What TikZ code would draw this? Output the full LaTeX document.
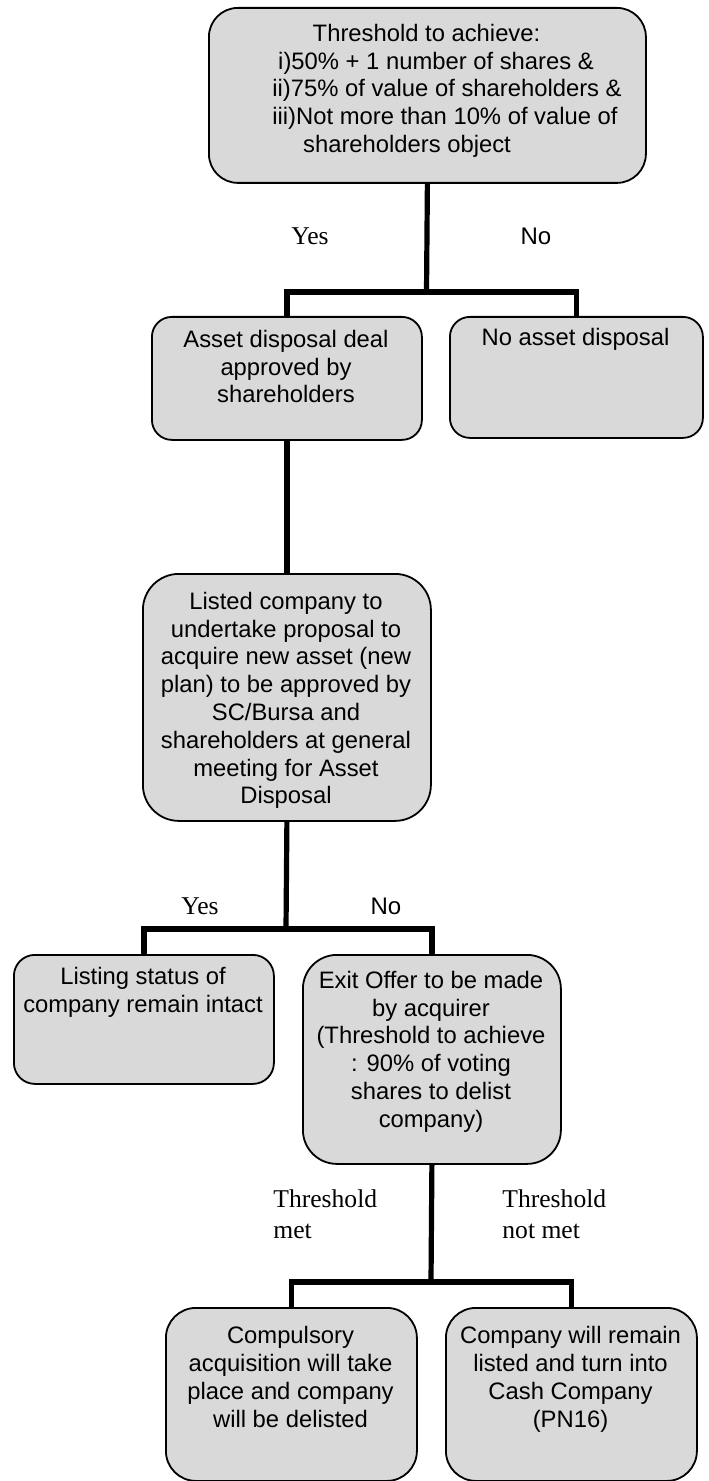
\documentclass[tikz,border=0pt]{standalone}
\usepackage{fontspec}
\setmainfont{Liberation Sans}
\newfontfamily\lblfont{Liberation Serif}
\definecolor{boxgray}{RGB}{217,217,217}
\tikzset{
  box/.style={draw=black, line width=0.9pt, fill=boxgray, rectangle, inner sep=0pt, anchor=north west},
  boxtext/.style={font=\fontsize{11.9}{13.9}\selectfont, align=center, inner sep=0pt, anchor=north},
  conn/.style={line width=2.6pt},
  lbl/.style={font=\lblfont\fontsize{12.8}{15.5}\selectfont, inner sep=0pt},
  lblsans/.style={font=\fontsize{12}{13.9}\selectfont, inner sep=0pt}
}
\begin{document}
\begin{tikzpicture}[x=0.5pt,y=-0.5pt]
\useasboundingbox (0,0) rectangle (708,1481);

% boxes
\node[box, minimum width=218.5pt, minimum height=87.5pt, rounded corners=14.5pt] (b1) at (208,7) {};
\node[box, minimum width=135pt, minimum height=61.5pt, rounded corners=10pt] (b2) at (151,316) {};
\node[box, minimum width=126.5pt, minimum height=60.5pt, rounded corners=10pt] (b2n) at (449,316) {};
\node[box, minimum width=144pt, minimum height=123.5pt, rounded corners=18pt] (b3) at (142,573) {};
\node[box, minimum width=130pt, minimum height=64.5pt, rounded corners=10.5pt] (b4) at (13,954) {};
\node[box, minimum width=129pt, minimum height=104.5pt, rounded corners=17pt] (b5) at (302,954) {};
\node[box, minimum width=125.5pt, minimum height=86.5pt, rounded corners=15pt] (b6) at (165,1307) {};
\node[box, minimum width=125.5pt, minimum height=86.5pt, rounded corners=15pt] (b7) at (445,1307) {};

% box texts
\node[boxtext] (t1) at (426.5,21.5) {\strut Threshold to achieve:\\
\hspace*{9.5pt}i)50\% + 1 number of shares \&\\
\hspace*{20.5pt}ii)75\% of value of shareholders \&\\
\hspace*{18.5pt}iii)Not more than 10\% of value of\\
shareholders object\hspace*{19.5pt}};
\node[boxtext] (t2) at (286,327.5) {\strut Asset disposal deal\\approved by\\shareholders};
\node[boxtext] (t2n) at (575.5,325.5) {\strut No asset disposal};
\node[boxtext] (t3) at (286,589.5) {\strut Listed company to\\undertake proposal to\\acquire new asset (new\\plan) to be approved by\\SC/Bursa and\\shareholders at general\\meeting for Asset\\Disposal};
\node[boxtext] (t4) at (143,964.5) {\strut Listing status of\\company remain intact};
\node[boxtext] (t5) at (431,968.5) {\strut Exit Offer to be made\\by acquirer\\(Threshold to achieve\\: 90\% of voting\\shares to delist\\company)};
\node[boxtext] (t6) at (290.5,1324) {\strut Compulsory\\acquisition will take\\place and company\\will be delisted};
\node[boxtext] (t7) at (570.5,1324) {\strut Company will remain\\listed and turn into\\Cash Company\\(PN16)};

% labels
\node[lbl, anchor=base] (yes1) at (310,245) {Yes};
\node[lblsans, anchor=base] (no1) at (536,245) {No};
\node[lbl, anchor=base] (yes2) at (200,914) {Yes};
\node[lblsans, anchor=base] (no2) at (386,914) {No};
\node[lbl, anchor=north west, align=left] (tm) at (273,1185) {\strut Threshold\\met};
\node[lbl, anchor=north west, align=left] (tnm) at (502,1185) {\strut Threshold\\not met};

% connectors
\coordinate (j1) at (426.5,292);
\coordinate (j2) at (286,929);
\coordinate (j3) at (431,1282);
\draw[conn] (b1.south) -- (j1);
\draw[conn] (b2.north) |- (j1) -| (b2n.north);
\draw[conn] (b2.south) -- (b3.north);
\draw[conn] (b3.south) -- (j2);
\draw[conn] (b4.north) |- (j2) -| (b5.north);
\draw[conn] (b5.south) -- (j3);
\draw[conn] (b6.north) |- (j3) -| (b7.north);
\end{tikzpicture}
\end{document}
